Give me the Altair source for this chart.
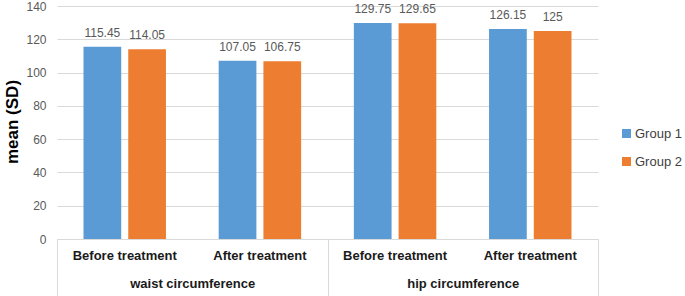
import altair as alt
import pandas as pd

measures = ["waist circumference", "hip circumference"]
phases = ["Before treatment", "After treatment"]
groups = ["Group 1", "Group 2"]
group1 = [115.45, 107.05, 129.75, 126.15]
group2 = [114.05, 106.75, 129.65, 125]
colors = ["#5B9BD5", "#ED7D31"]

keys = [f"{m}|{p}" for m in measures for p in phases]
rows = []
for i, k in enumerate(keys):
    for g, vals in zip(groups, [group1, group2]):
        rows.append({"key": k, "group": g, "value": vals[i], "label": f"{vals[i]:g}"})
df = pd.DataFrame(rows)
outer_df = pd.DataFrame({"measure": measures})

FONT = "Liberation Sans"

x_inner = alt.X(
    "key:N",
    sort=keys,
    scale=alt.Scale(paddingInner=0.39, paddingOuter=0.196),
    axis=alt.Axis(
        title=None,
        orient="bottom",
        grid=False,
        labelExpr="split(datum.value, '|')[1]",
        labelAngle=0,
        ticks=False,
        domain=True,
        domainColor="#d9d9d9",
        labelPadding=10,
        labelFont=FONT,
        labelFontSize=13,
        labelFontWeight="bold",
        labelColor="#1a1a1a",
    ),
)
xoff = alt.XOffset("group:N", sort=groups, scale=alt.Scale(paddingInner=0.157, paddingOuter=0))
y = alt.Y(
    "value:Q",
    scale=alt.Scale(domain=[0, 140], nice=False),
    axis=alt.Axis(
        values=[0, 20, 40, 60, 80, 100, 120, 140],
        labelOverlap=False,
        title="mean (SD)",
        titleFont=FONT,
        titleFontSize=17,
        titleFontWeight="bold",
        titleColor="#000000",
        titleX=-44.5,
        titleY=115.5,
        titleAngle=270,
        titleAlign="center",
        titleBaseline="middle",
        domain=False,
        ticks=False,
        labelPadding=11,
        labelFont=FONT,
        labelFontSize=12,
        labelColor="#595959",
        grid=True,
        gridColor="#d9d9d9",
    ),
)

bars = alt.Chart(df).mark_bar().encode(
    x=x_inner,
    xOffset=xoff,
    y=y,
    color=alt.Color(
        "group:N",
        sort=groups,
        scale=alt.Scale(domain=groups, range=colors),
        legend=alt.Legend(
            title=None,
            orient="none",
            legendX=563,
            legendY=121,
            symbolType="square",
            symbolSize=81,
            symbolStrokeWidth=0,
            labelFont=FONT,
            labelFontSize=13,
            labelColor="#404040",
            rowPadding=14,
            padding=0,
            labelOffset=2,
        ),
    ),
)

texts = alt.Chart(df).mark_text(
    baseline="alphabetic", dy=-10, font=FONT, fontSize=12, color="#595959"
).encode(x=x_inner, xOffset=xoff, y=y, text="label:N")

outer = alt.Chart(outer_df).mark_point(opacity=0).encode(
    x=alt.X(
        "measure:N",
        sort=measures,
        scale=alt.Scale(paddingInner=0, paddingOuter=0),
        axis=alt.Axis(
            title=None,
            orient="bottom",
            grid=False,
            labelAngle=0,
            domain=False,
            ticks=True,
            tickBand="extent",
            tickSize=57,
            tickColor="#d9d9d9",
            labelPadding=-19,
            labelFont=FONT,
            labelFontSize=13,
            labelFontWeight="bold",
            labelColor="#1a1a1a",
        ),
    )
)

chart = (
    alt.layer(alt.layer(bars, texts), outer)
    .resolve_scale(x="independent")
    .properties(
        width=541,
        height=233,
        background="white",
        autosize=alt.AutoSizeParams(type="none"),
        padding={"left": 57, "top": 6, "right": 87, "bottom": 57},
    )
    .configure_view(strokeWidth=0, strokeOpacity=0, stroke="#ffffff")
)

chart.save("out.html", embed_options={"renderer": "svg", "actions": False})
